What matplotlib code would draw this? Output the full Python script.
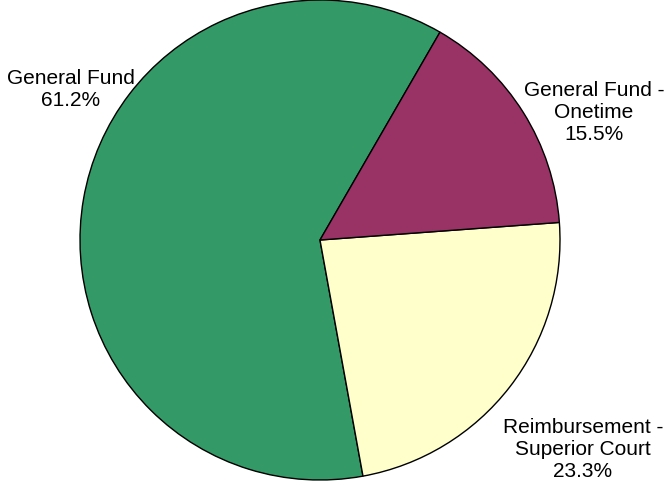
import matplotlib
matplotlib.use("Agg")
import matplotlib.pyplot as plt

# slice data
names = ["General Fund", "Reimbursement -\nSuperior Court", "General Fund -\nOnetime"]
shares = [61.2, 23.3, 15.5]
colors = ["#339966", "#FFFFCC", "#993366"]
label_pos = [(71, 89), (583, 450), (594, 112)]

plt.rcParams['font.family'] = ['Liberation Sans', 'DejaVu Sans']

fig = plt.figure(figsize=(6.67, 4.85), dpi=100)
ax = fig.add_axes([0, 0, 1, 1])

# y axis runs downward (pixel coords), so angles go the other way
ax.pie(shares, colors=colors, startangle=-60, counterclock=False,
       center=(320, 241), radius=240,
       wedgeprops=dict(edgecolor="black", linewidth=1.0), frame=True)

for name, val, (x, y) in zip(names, shares, label_pos):
    ax.text(x, y, "%s\n%.1f%%" % (name, val), ha="center", va="center",
            fontsize=15, linespacing=1.2, color="black")

ax.set_xlim(0, 667)
ax.set_ylim(485, 0)
ax.set_aspect("equal")
ax.axis("off")

fig.savefig("out.png", dpi=100)
